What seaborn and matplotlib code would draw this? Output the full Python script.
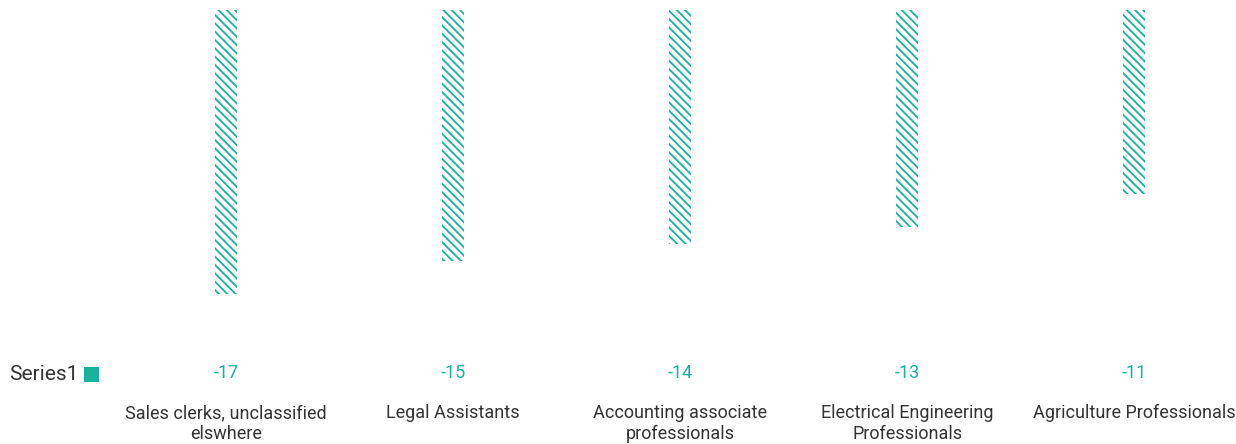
import matplotlib
matplotlib.use("Agg")
import matplotlib.pyplot as plt
import seaborn as sns
from matplotlib.patches import Rectangle

categories = [
    "Sales clerks, unclassified\nelswhere",
    "Legal Assistants",
    "Accounting associate\nprofessionals",
    "Electrical Engineering\nProfessionals",
    "Agriculture Professionals",
]
values = [-17, -15, -14, -13, -11]
series_name = "Series1"

TEAL = "#17b39c"
TEXT = "#333333"

sns.set_theme(style="white")
plt.rcParams["font.family"] = ["Roboto", "DejaVu Sans"]
plt.rcParams["hatch.linewidth"] = 1.3

W, H = 1236, 444
fig = plt.figure(figsize=(W / 100, H / 100), dpi=100)
ax = fig.add_axes([113 / W, 1 - 400 / H, (W - 113) / W, 390 / H])

sns.barplot(x=categories, y=values, color=TEAL, width=0.1, ax=ax,
            saturation=1, errorbar=None)
for p in ax.patches:
    p.set_facecolor("white")
    p.set_edgecolor(TEAL)
    p.set_linewidth(0)
    p.set_hatch("\\\\\\\\")

ax.set_ylim(-23.35, 0)
ax.set_xlim(-0.498, 4.449)
for s in ax.spines.values():
    s.set_visible(False)
ax.set_yticks([])
ax.set_ylabel("")
ax.set_xlabel("")
ax.tick_params(axis="x", length=0, pad=3, labelsize=13, labelcolor=TEXT)
for lbl in ax.get_xticklabels():
    lbl.set_linespacing(1.2)
    lbl.set_verticalalignment("top")

# value labels in the legend row
for i, v in enumerate(values):
    ax.text(i, -21.75, f"{v}", ha="center", va="center", color=TEAL,
            fontsize=13, clip_on=False)

# legend entry
fig.text(78 / W, 1 - 374 / H, series_name, ha="right", va="center",
         color=TEXT, fontsize=15)
fig.patches.append(Rectangle((84 / W, 1 - 382 / H), 15 / W, 15 / H,
                             transform=fig.transFigure, facecolor=TEAL,
                             edgecolor="none"))

fig.savefig("out.png", dpi=100, facecolor="white")
